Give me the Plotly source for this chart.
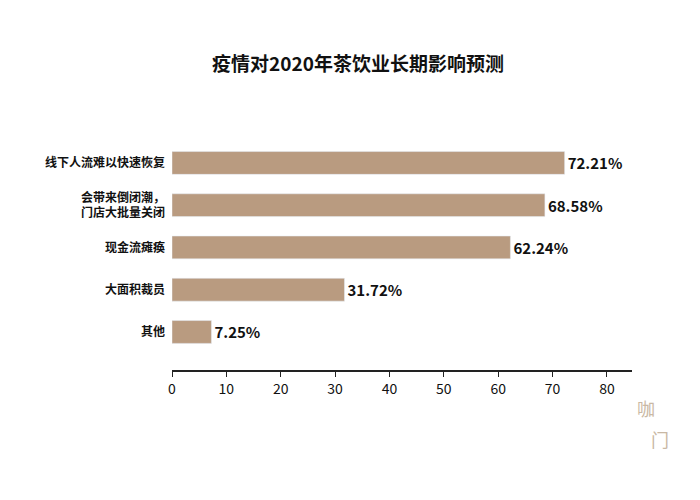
import plotly.graph_objects as go

categories = ["线下人流难以快速恢复", "会带来倒闭潮，<br>门店大批量关闭", "现金流瘫痪", "大面积裁员", "其他"]
values = [72.21, 68.58, 62.24, 31.72, 7.25]
labels = ["<b>72.21%</b>", "<b>68.58%</b>", "<b>62.24%</b>", "<b>31.72%</b>", "<b>7.25%</b>"]

fig = go.Figure()
fig.add_trace(go.Bar(
    x=values, y=["<b>%s</b>" % c for c in categories], orientation="h",
    marker=dict(color="#b99b80"), width=0.54,
    text=labels, textposition="outside", cliponaxis=False,
    textfont=dict(size=15, color="#111", family="Noto Sans CJK SC"),
))

fig.update_layout(
    width=700, height=500,
    paper_bgcolor="white", plot_bgcolor="white",
    margin=dict(l=164, r=76, t=122, b=138, autoexpand=False),
    title=dict(text="<b>疫情对2020年茶饮业长期影响预测</b>", x=0.5, y=0.9, xanchor="center",
               font=dict(size=19, color="#111", family="Noto Sans CJK SC")),
    showlegend=False,
    xaxis=dict(range=[0, 84.6], dtick=10, showgrid=False, zeroline=False,
               showline=True, linecolor="#222", linewidth=1.5,
               ticks="outside", ticklen=5, tickcolor="#222", automargin=False,
               tickfont=dict(size=14, color="#111", family="Noto Sans CJK SC")),
    yaxis=dict(range=[4.9, -0.78], showgrid=False, showline=False, ticks="",
               ticklabelstandoff=6, automargin=False,
               tickfont=dict(size=12, color="#111", family="Noto Sans CJK SC")),
    font=dict(family="Noto Sans CJK SC"),
)
fig.add_annotation(text="咖", x=1.055, y=-0.22, xref="paper", yref="paper",
                   showarrow=False, font=dict(size=18, color="#c9b8a4"))
fig.add_annotation(text="门", x=1.085, y=-0.35, xref="paper", yref="paper",
                   showarrow=False, font=dict(size=18, color="#c9b8a4"))

fig.write_html("out.html")
